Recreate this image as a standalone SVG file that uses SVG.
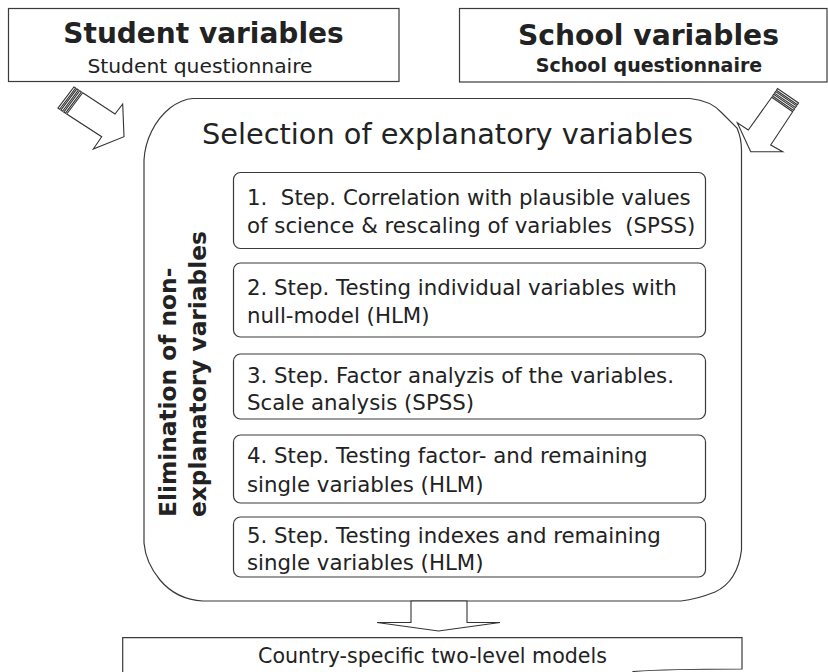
<svg xmlns="http://www.w3.org/2000/svg" width="828" height="672" viewBox="0 0 828 672">
<style>
  .box { fill: #ffffff; stroke: #3a3a3a; stroke-width: 1.2; }
  .line { fill: #ffffff; stroke: #333333; stroke-width: 1.1; stroke-linejoin: miter; }
  .t { font-family: "DejaVu Sans", Verdana, sans-serif; fill: #222222; }
  .b { font-weight: bold; }
  .step { font-size: 21.3px; white-space: pre; }
</style>
<rect x="0" y="0" width="828" height="672" fill="#ffffff"/>

<g id="student-variables">
  <rect class="box" x="8.5" y="8.5" width="390.5" height="73"/>
  <text class="t b" x="203.5" y="43" font-size="28" text-anchor="middle">Student variables</text>
  <text class="t" x="200" y="73" font-size="20.3" text-anchor="middle">Student questionnaire</text>
</g>

<g id="school-variables">
  <rect class="box" x="459.5" y="8.5" width="367.5" height="73.5"/>
  <text class="t b" x="648.5" y="45" font-size="28.2" text-anchor="middle">School variables</text>
  <text class="t b" x="649" y="72" font-size="19" text-anchor="middle">School questionnaire</text>
</g>

<g id="selection">
  <path class="box" d="M 193,98.5 L 690,98.5 C 705,100 715,105 722,113 L 737,128 C 740,135 741.5,142 741.5,150 L 741.5,550 C 739,570 730,585 715,592 C 700,598 690,600 681,601 L 203,601 C 185,600 170,592 160,580 C 150,568 145,555 144,543 L 144,160 C 145,140 155,120 170,108 C 178,102 185,99 193,98.5 Z"/>
  <text class="t" x="202" y="144" font-size="28.8">Selection of explanatory variables</text>
  <text class="t b" font-size="23.3" transform="translate(176,517) rotate(-90)">Elimination of non-</text>
  <text class="t b" font-size="23.3" transform="translate(206,517) rotate(-90)">explanatory variables</text>
</g>

<g id="step1">
  <rect class="box" x="233.5" y="172.5" width="472" height="76" rx="7"/>
  <text class="t step" x="247" y="205">1.  Step. Correlation with plausible values</text>
  <text class="t step" x="247" y="233">of science &amp; rescaling of variables  (SPSS)</text>
</g>
<g id="step2">
  <rect class="box" x="233.5" y="263" width="472" height="74" rx="7"/>
  <text class="t step" x="247" y="295">2. Step. Testing individual variables with</text>
  <text class="t step" x="247" y="323">null-model (HLM)</text>
</g>
<g id="step3">
  <rect class="box" x="233.5" y="354" width="472" height="65" rx="7"/>
  <text class="t step" x="247" y="383">3. Step. Factor analyzis of the variables.</text>
  <text class="t step" x="247" y="410">Scale analysis (SPSS)</text>
</g>
<g id="step4">
  <rect class="box" x="233.5" y="435" width="472" height="68" rx="7"/>
  <text class="t step" x="247" y="463">4. Step. Testing factor- and remaining</text>
  <text class="t step" x="247" y="492">single variables (HLM)</text>
</g>
<g id="step5">
  <rect class="box" x="233.5" y="517" width="472" height="60" rx="7"/>
  <text class="t step" x="247" y="543">5. Step. Testing indexes and remaining</text>
  <text class="t step" x="247" y="570">single variables (HLM)</text>
</g>

<g id="country-models">
  <path class="box" d="M 122.7,673 L 122.7,637.7 L 742,637.7 L 742,669 C 700,669 660,669.5 633,671.5 L 633,673"/>
  <text class="t" x="432.5" y="663" font-size="20.6" text-anchor="middle">Country-specific two-level models</text>
</g>

<g id="connectors">
  <g id="arrow-student">
    <polygon class="line" points="82.7,92.7 115,114 122.7,104 124,136.7 93.3,149 101.7,136.7 66.7,114"/>
    <polygon class="line" points="81.45,91.87 79.78,90.77 63.78,112.07 65.45,113.17"/>
    <polygon class="line" points="78.53,89.95 76.86,88.84 60.86,110.14 62.53,111.25"/>
    <polygon class="line" points="75.6,88.02 73.93,86.91 57.93,108.21 59.6,109.32"/>
  </g>
  <g id="arrow-school">
    <polygon class="line" points="771.7,97.3 748.3,130 737.3,122.7 750.7,151.7 782.7,151.7 770.7,145 792.7,111.7"/>
    <polygon class="line" points="772.53,96.05 773.64,94.39 794.64,108.79 793.53,110.45"/>
    <polygon class="line" points="774.48,93.14 775.59,91.48 796.59,105.88 795.48,107.54"/>
    <polygon class="line" points="776.42,90.23 777.53,88.56 798.53,102.96 797.42,104.63"/>
  </g>
  <polygon id="arrow-down" class="line" points="411,601 411,622.5 377,622.5 438.5,631 500,622.5 467,622.5 467,601"/>
</g>
</svg>
